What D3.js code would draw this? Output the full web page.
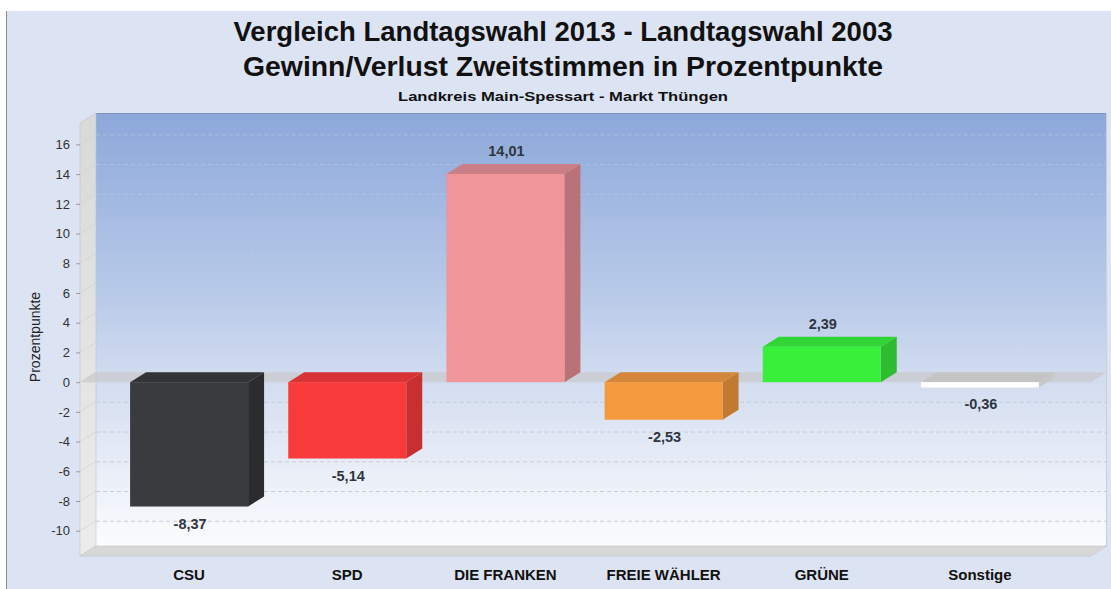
<!DOCTYPE html>
<html lang="de">
<head>
<meta charset="UTF-8">
<title>Vergleich Landtagswahl</title>
<script src="https://cdn.jsdelivr.net/npm/d3@7"></script>
<style>
    body { margin: 0; background: #fff; }
    text { font-family: "Liberation Sans", Arial, sans-serif; }
</style>
</head>
<body>
<div id="chart"></div>
<script>
    // data
    const parties = ["CSU", "SPD", "DIE FRANKEN", "FREIE WÄHLER", "GRÜNE", "Sonstige"];
    const changes = [-8.37, -5.14, 14.01, -2.53, 2.39, -0.36];
    const yTicks = [-10, -8, -6, -4, -2, 0, 2, 4, 6, 8, 10, 12, 14, 16];
    const faceColors = ["#3a3b3e", "#f93a3b", "#f0959a", "#f49a3c", "#38ef3a", "#ffffff"];
    const sideColors = ["#2b2c2e", "#c72f30", "#b97378", "#c27a33", "#2dbd2f", "#c8c8c8"];
    const topColors  = ["#333436", "#d83435", "#c97f85", "#d4873a", "#33d435", "#c4c4c4"];

    const W = 1111, H = 589;
    const dx = 16, dy = 10;          // 3d depth offset
    const front = {left: 80, right: 1091, top: 123, bottom: 556};

    const de = d3.formatLocale({decimal: ",", thousands: ".", grouping: [3], currency: ["", " €"], minus: "-"});

    const svg = d3.select("#chart").append("svg")
        .attr("width", W).attr("height", H);

    const defs = svg.append("defs");
    const wallGrad = defs.append("linearGradient").attr("id", "wall")
        .attr("x1", 0).attr("y1", 0).attr("x2", 0).attr("y2", 1);
    wallGrad.append("stop").attr("offset", "0%").attr("stop-color", "#8ca8da");
    wallGrad.append("stop").attr("offset", "45%").attr("stop-color", "#bccdea");
    wallGrad.append("stop").attr("offset", "62%").attr("stop-color", "#d3ddf0");
    wallGrad.append("stop").attr("offset", "100%").attr("stop-color", "#fbfcfe");

    const sideGrad = defs.append("linearGradient").attr("id", "side")
        .attr("x1", 0).attr("y1", 0).attr("x2", 0).attr("y2", 1);
    sideGrad.append("stop").attr("offset", "0%").attr("stop-color", "#d9d9d9");
    sideGrad.append("stop").attr("offset", "100%").attr("stop-color", "#ececec");

    // outer background
    svg.append("rect").attr("x", 6).attr("y", 11).attr("width", W - 6).attr("height", H - 11)
        .attr("fill", "#dce3f3");
    svg.append("line").attr("x1", 6.5).attr("x2", 6.5).attr("y1", 11).attr("y2", H)
        .attr("stroke", "#8a8a8a");

    // titles
    svg.append("text").attr("x", 563).attr("y", 41).attr("text-anchor", "middle")
        .attr("font-size", 27).attr("font-weight", "bold").attr("fill", "#111")
        .attr("textLength", 659).attr("lengthAdjust", "spacingAndGlyphs")
        .text("Vergleich Landtagswahl 2013 - Landtagswahl 2003");
    svg.append("text").attr("x", 563).attr("y", 76).attr("text-anchor", "middle")
        .attr("font-size", 27).attr("font-weight", "bold").attr("fill", "#111")
        .attr("textLength", 640).attr("lengthAdjust", "spacingAndGlyphs")
        .text("Gewinn/Verlust Zweitstimmen in Prozentpunkte");
    svg.append("text").attr("x", 563).attr("y", 101).attr("text-anchor", "middle")
        .attr("font-size", 13).attr("font-weight", "bold").attr("fill", "#111")
        .attr("textLength", 330).attr("lengthAdjust", "spacingAndGlyphs")
        .text("Landkreis Main-Spessart - Markt Thüngen");

    // scales (front plane)
    const y = d3.scaleLinear().domain([-11.7, 17.44]).range([front.bottom, front.top]);
    const x = d3.scaleBand().domain(parties).range([110, 1059])
        .paddingInner(0.254).paddingOuter(0.127);

    const poly = pts => pts.map(p => p.join(",")).join(" ");

    // back wall
    svg.append("rect")
        .attr("x", front.left + dx).attr("y", front.top - dy)
        .attr("width", front.right - front.left).attr("height", front.bottom - front.top)
        .attr("fill", "url(#wall)");
    svg.append("line")
        .attr("x1", front.left + dx).attr("x2", front.right + dx)
        .attr("y1", front.top - dy + 0.5).attr("y2", front.top - dy + 0.5)
        .attr("stroke", "#8095bd").attr("stroke-width", 1);
    svg.append("line")
        .attr("x1", front.right + dx - 0.5).attr("x2", front.right + dx - 0.5)
        .attr("y1", front.top - dy).attr("y2", front.bottom - dy)
        .attr("stroke", "#c8cfdc").attr("stroke-width", 1);

    // left side wall
    svg.append("polygon")
        .attr("points", poly([[front.left, front.top], [front.left + dx, front.top - dy],
            [front.left + dx, front.bottom - dy], [front.left, front.bottom]]))
        .attr("fill", "url(#side)").attr("stroke", "#c4c4c4").attr("stroke-width", 0.6);

    // floor
    svg.append("polygon")
        .attr("points", poly([[front.left, front.bottom], [front.left + dx, front.bottom - dy],
            [front.right + dx, front.bottom - dy], [front.right, front.bottom]]))
        .attr("fill", "#d8d8d8").attr("stroke", "#c4c4c4").attr("stroke-width", 0.6);

    // grid lines on back wall and side wall
    const grid = svg.append("g");
    grid.selectAll("line.back").data(yTicks.filter(t => t !== 0)).join("line")
        .attr("class", "back")
        .attr("x1", front.left + dx).attr("x2", front.right + dx)
        .attr("y1", d => y(d) - dy + 0.5).attr("y2", d => y(d) - dy + 0.5)
        .attr("stroke", d => d > 0 ? "#c3d1ea" : "#c8cdd8")
        .attr("stroke-opacity", d => d > 0 ? 0.5 : 1)
        .attr("stroke-dasharray", "4,3").attr("stroke-width", 1);
    grid.selectAll("line.side").data(yTicks).join("line")
        .attr("class", "side")
        .attr("x1", front.left).attr("x2", front.left + dx)
        .attr("y1", d => y(d)).attr("y2", d => y(d) - dy)
        .attr("stroke", "#d2d2d2").attr("stroke-width", 0.8);

    // zero plane
    svg.append("polygon")
        .attr("points", poly([[front.left, y(0)], [front.left + dx, y(0) - dy],
            [front.right + dx, y(0) - dy], [front.right, y(0)]]))
        .attr("fill", "#c9c9cc").attr("opacity", 0.75);

    // y axis
    svg.append("g")
        .attr("transform", `translate(${front.left},0)`)
        .call(d3.axisLeft(y).tickValues(yTicks).tickSize(4).tickPadding(6).tickFormat(de.format("d")))
        .call(g => g.select(".domain").remove())
        .call(g => g.selectAll("line").attr("stroke", "#999"))
        .call(g => g.selectAll("text").attr("font-size", 13).attr("fill", "#333")
            .attr("font-family", "'Liberation Sans', Arial, sans-serif"));

    svg.append("text")
        .attr("transform", `translate(40,${337}) rotate(-90)`)
        .attr("text-anchor", "middle").attr("font-size", 14).attr("fill", "#222")
        .text("Prozentpunkte");

    // bars
    const bars = svg.append("g").selectAll("g").data(parties).join("g");
    const bw = x.bandwidth();
    bars.each(function (p, i) {
        const g = d3.select(this);
        const v = changes[i];
        const x0 = x(p), x1 = x0 + bw;
        const yTop = y(Math.max(0, v)), yBot = y(Math.min(0, v));
        // side face
        g.append("polygon")
            .attr("points", poly([[x1, yTop], [x1 + dx, yTop - dy], [x1 + dx, yBot - dy], [x1, yBot]]))
            .attr("fill", sideColors[i]);
        // top face
        g.append("polygon")
            .attr("points", poly([[x0, yTop], [x0 + dx, yTop - dy], [x1 + dx, yTop - dy], [x1, yTop]]))
            .attr("fill", topColors[i]);
        // front face
        g.append("rect")
            .attr("x", x0).attr("y", yTop).attr("width", bw).attr("height", Math.max(yBot - yTop, 1))
            .attr("fill", faceColors[i]);
    });

    // value labels
    const fmt = de.format(".2f");
    svg.append("g").selectAll("text").data(parties).join("text")
        .attr("x", p => x(p) + bw / 2 + 1)
        .attr("y", (p, i) => changes[i] >= 0 ? y(changes[i]) - 18 : y(changes[i]) + 22)
        .attr("text-anchor", "middle").attr("font-size", 14.5).attr("font-weight", "bold")
        .attr("fill", "#2f3540")
        .text((p, i) => fmt(changes[i]));

    // category labels
    svg.append("g").selectAll("text").data(parties).join("text")
        .attr("x", p => x(p) + bw / 2)
        .attr("y", 580)
        .attr("text-anchor", "middle").attr("font-size", 15).attr("font-weight", "bold")
        .attr("fill", "#111")
        .text(p => p);
</script>
</body>
</html>
